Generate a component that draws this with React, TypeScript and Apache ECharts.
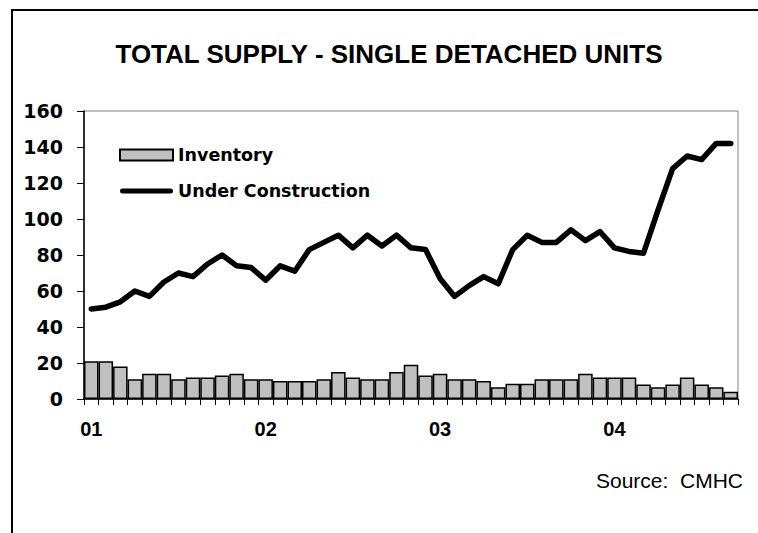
import React, { useEffect, useRef } from "react";
import * as echarts from "echarts";

const months: string[] = [
  "Jan 2001", "Feb 2001", "Mar 2001", "Apr 2001", "May 2001", "Jun 2001", "Jul 2001", "Aug 2001", "Sep 2001", "Oct 2001", "Nov 2001", "Dec 2001",
  "Jan 2002", "Feb 2002", "Mar 2002", "Apr 2002", "May 2002", "Jun 2002", "Jul 2002", "Aug 2002", "Sep 2002", "Oct 2002", "Nov 2002", "Dec 2002",
  "Jan 2003", "Feb 2003", "Mar 2003", "Apr 2003", "May 2003", "Jun 2003", "Jul 2003", "Aug 2003", "Sep 2003", "Oct 2003", "Nov 2003", "Dec 2003",
  "Jan 2004", "Feb 2004", "Mar 2004", "Apr 2004", "May 2004", "Jun 2004", "Jul 2004", "Aug 2004", "Sep 2004",
];

const yearLabels: string[] = ["01", "02", "03", "04"];

const inventory: number[] = [
  21, 21, 18, 11, 14, 14, 11, 12, 12, 13, 14, 11,
  11, 10, 10, 10, 11, 15, 12, 11, 11, 15, 19, 13,
  14, 11, 11, 10, 6.5, 8.5, 8.5, 11, 11, 11, 14, 12,
  12, 12, 8, 6.5, 8, 12, 8, 6.5, 4,
];

const underConstruction: number[] = [
  50, 51, 54, 60, 57, 65, 70, 68, 75, 80, 74, 73,
  66, 74, 71, 83, 87, 91, 84, 91, 85, 91, 84, 83,
  67, 57, 63, 68, 64, 83, 91, 87, 87, 94, 88, 93,
  84, 82, 81, 105, 128, 135, 133, 142, 142,
];

const TITLE = "TOTAL SUPPLY - SINGLE DETACHED UNITS";
const SOURCE = "Source:  CMHC";

const LINE_ICON = "path://M2.5,0 L50.5,0 A2.5,2.5 0 0 1 50.5,5 L2.5,5 A2.5,2.5 0 0 1 2.5,0 Z";

export default function App() {
  const ref = useRef<HTMLDivElement>(null);

  useEffect(() => {
    if (!ref.current) return;
    const chart = echarts.init(ref.current, undefined, { renderer: "svg" });
    chart.setOption({
      animation: false,
      backgroundColor: "#ffffff",
      title: [
        {
          text: TITLE,
          left: 389,
          top: 41,
          padding: 0,
          textAlign: "center",
          textStyle: {
            fontFamily: "Liberation Sans, Arial, sans-serif",
            fontWeight: "bold",
            fontSize: 26,
            color: "#000",
          },
        },
        {
          text: SOURCE,
          right: 15,
          top: 470,
          padding: 0,
          textStyle: {
            fontFamily: "Liberation Sans, Arial, sans-serif",
            fontWeight: "normal",
            fontSize: 21,
            color: "#000",
          },
        },
      ],
      graphic: [
        {
          type: "rect",
          shape: { x: 12, y: 10, width: 800, height: 600 },
          style: { fill: "none", stroke: "#000", lineWidth: 2 },
          silent: true,
          z: -1,
        },
      ],
      legend: {
        orient: "vertical",
        left: 119,
        top: 146,
        padding: 0,
        itemWidth: 53,
        itemHeight: 11,
        itemGap: 18,
        symbolKeepAspect: true,
        textStyle: {
          fontFamily: "DejaVu Sans, sans-serif",
          fontWeight: "bold",
          fontSize: 17.5,
          lineHeight: 14,
          color: "#000",
        },
        data: [
          { name: "Inventory", icon: "rect" },
          { name: "Under Construction", icon: LINE_ICON, itemStyle: { color: "#000", borderWidth: 0 } },
        ],
      },
      grid: {
        left: 84,
        top: 111,
        right: 20,
        bottom: 134,
        show: true,
        borderColor: "#808080",
        borderWidth: 1,
        backgroundColor: "transparent",
      },
      xAxis: {
        type: "category",
        data: months,
        boundaryGap: true,
        axisLine: { show: true, lineStyle: { color: "#000", width: 1.5 } },
        axisTick: {
          show: true,
          interval: 0,
          alignWithLabel: false,
          length: 6,
          lineStyle: { color: "#000", width: 1 },
        },
        axisLabel: {
          interval: (index: number) => index % 12 === 0,
          formatter: (_v: string, index: number) => yearLabels[Math.floor(index / 12)],
          margin: 20,
          color: "#000",
          fontFamily: "Liberation Sans, Arial, sans-serif",
          fontWeight: "bold",
          fontSize: 20,
        },
        splitLine: { show: false },
      },
      yAxis: {
        type: "value",
        min: 0,
        max: 160,
        interval: 20,
        axisLine: { show: true, lineStyle: { color: "#000", width: 1.5 } },
        axisTick: { show: true, length: 7, lineStyle: { color: "#000", width: 1 } },
        axisLabel: {
          margin: 21,
          color: "#000",
          fontFamily: "DejaVu Sans, sans-serif",
          fontWeight: "bold",
          fontSize: 19,
        },
        splitLine: { show: false },
      },
      series: [
        {
          name: "Inventory",
          type: "bar",
          data: inventory,
          barCategoryGap: "0%",
          itemStyle: { color: "#c0c0c0", borderColor: "#000", borderWidth: 1.5 },
          z: 2,
        },
        {
          name: "Under Construction",
          type: "line",
          data: underConstruction,
          symbol: "none",
          lineStyle: { color: "#000", width: 5.5, cap: "round", join: "round" },
          itemStyle: { color: "#000" },
          z: 3,
        },
      ],
    });
    return () => chart.dispose();
  }, []);

  return (
    <div
      ref={ref}
      style={{ position: "absolute", left: 0, top: 0, width: 758, height: 533 }}
    />
  );
}
